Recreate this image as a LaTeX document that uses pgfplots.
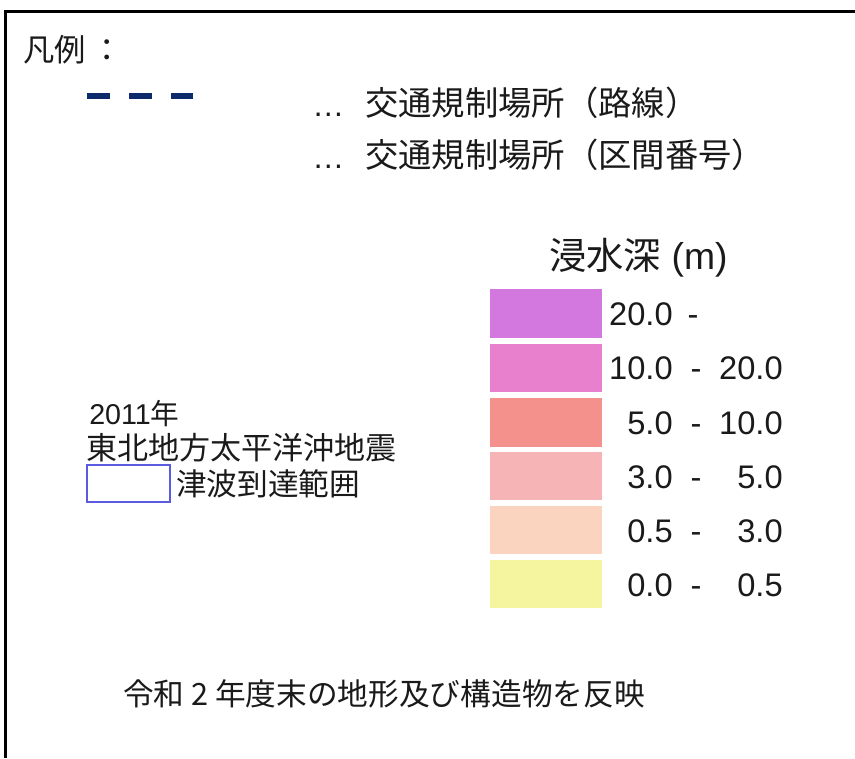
\documentclass[border=0pt]{standalone}
\usepackage{pgfplots}
\pgfplotsset{compat=1.18}
\usepackage{fontspec}
\setmainfont{Liberation Sans}
\newfontfamily\jp{Noto Sans CJK JP}
\definecolor{navy}{HTML}{0D2A6B}
\definecolor{boxblue}{HTML}{5B5BE0}
\definecolor{cA}{HTML}{D378DE}
\definecolor{cB}{HTML}{E880CD}
\definecolor{cC}{HTML}{F5918C}
\definecolor{cD}{HTML}{F7B4B6}
\definecolor{cE}{HTML}{FAD4BE}
\definecolor{cF}{HTML}{F5F5A0}
\definecolor{txt}{HTML}{1A1A1A}
\begin{document}
\begin{tikzpicture}
\begin{axis}[name=ax, scale only axis, width=641.25pt, height=568.5pt,
  xmin=0, xmax=855, ymin=0, ymax=758, y dir=reverse, hide axis, clip=false]
% frame
\addplot[black, line width=2.25pt] coordinates {(5,758) (5,11.5) (855,11.5)};
% dashed route symbol
\addplot[navy, line width=4.5pt, line cap=butt, dash pattern=on 17.25pt off 14.25pt] coordinates {(87,96) (193,96)};
% swatches
\addplot[draw=none, fill=cA] coordinates {(490,289) (602,289) (602,338) (490,338)} -- cycle;
\addplot[draw=none, fill=cB] coordinates {(490,344) (602,344) (602,392) (490,392)} -- cycle;
\addplot[draw=none, fill=cC] coordinates {(490,398) (602,398) (602,447) (490,447)} -- cycle;
\addplot[draw=none, fill=cD] coordinates {(490,452) (602,452) (602,500) (490,500)} -- cycle;
\addplot[draw=none, fill=cE] coordinates {(490,506) (602,506) (602,554) (490,554)} -- cycle;
\addplot[draw=none, fill=cF] coordinates {(490,560) (602,560) (602,608) (490,608)} -- cycle;
% tsunami box
\addplot[boxblue, line width=1.1pt] coordinates {(87,465) (170,465) (170,502) (87,502)} -- cycle;
% texts
\node[anchor=west, text=txt, font=\jp\fontsize{23.5}{27}\selectfont, inner sep=0pt] at (axis cs:23,50) {凡例\,：};
\node[anchor=base west, text=txt, font=\fontsize{24}{28}\selectfont, inner sep=0pt] at (axis cs:312,116) {…};
\node[anchor=base west, text=txt, font=\fontsize{24}{28}\selectfont, inner sep=0pt] at (axis cs:312,168) {…};
\node[anchor=west, text=txt, font=\jp\fontsize{25}{29}\selectfont, inner sep=0pt] at (axis cs:365,103) {交通規制場所（路線）};
\node[anchor=west, text=txt, font=\jp\fontsize{25}{29}\selectfont, inner sep=0pt] at (axis cs:365,155) {交通規制場所（区間番号）};
\node[anchor=west, text=txt, font=\fontsize{28}{31}\selectfont, inner sep=0pt] at (axis cs:549,258) {{\jp 浸水深} (m)};
% value labels
\node[anchor=base east, text=txt, font=\fontsize{24.5}{28}\selectfont, inner sep=0pt] at (axis cs:673,325) {20.0};
\node[anchor=base, text=txt, font=\fontsize{24.5}{28}\selectfont, inner sep=0pt] at (axis cs:693,325) {-};
\node[anchor=base east, text=txt, font=\fontsize{24.5}{28}\selectfont, inner sep=0pt] at (axis cs:673,379) {10.0};
\node[anchor=base, text=txt, font=\fontsize{24.5}{28}\selectfont, inner sep=0pt] at (axis cs:696,379) {-};
\node[anchor=base east, text=txt, font=\fontsize{24.5}{28}\selectfont, inner sep=0pt] at (axis cs:783,379) {20.0};
\node[anchor=base east, text=txt, font=\fontsize{24.5}{28}\selectfont, inner sep=0pt] at (axis cs:673,434) {5.0};
\node[anchor=base, text=txt, font=\fontsize{24.5}{28}\selectfont, inner sep=0pt] at (axis cs:696,434) {-};
\node[anchor=base east, text=txt, font=\fontsize{24.5}{28}\selectfont, inner sep=0pt] at (axis cs:783,434) {10.0};
\node[anchor=base east, text=txt, font=\fontsize{24.5}{28}\selectfont, inner sep=0pt] at (axis cs:673,488) {3.0};
\node[anchor=base, text=txt, font=\fontsize{24.5}{28}\selectfont, inner sep=0pt] at (axis cs:696,488) {-};
\node[anchor=base east, text=txt, font=\fontsize{24.5}{28}\selectfont, inner sep=0pt] at (axis cs:783,488) {5.0};
\node[anchor=base east, text=txt, font=\fontsize{24.5}{28}\selectfont, inner sep=0pt] at (axis cs:673,542) {0.5};
\node[anchor=base, text=txt, font=\fontsize{24.5}{28}\selectfont, inner sep=0pt] at (axis cs:696,542) {-};
\node[anchor=base east, text=txt, font=\fontsize{24.5}{28}\selectfont, inner sep=0pt] at (axis cs:783,542) {3.0};
\node[anchor=base east, text=txt, font=\fontsize{24.5}{28}\selectfont, inner sep=0pt] at (axis cs:673,596) {0.0};
\node[anchor=base, text=txt, font=\fontsize{24.5}{28}\selectfont, inner sep=0pt] at (axis cs:696,596) {-};
\node[anchor=base east, text=txt, font=\fontsize{24.5}{28}\selectfont, inner sep=0pt] at (axis cs:783,596) {0.5};
% tsunami legend
\node[anchor=base west, text=txt, font=\fontsize{21.5}{25}\selectfont, inner sep=0pt] at (axis cs:89,424) {2011{\jp 年}};
\node[anchor=west, text=txt, font=\jp\fontsize{23.3}{27}\selectfont, inner sep=0pt] at (axis cs:86,448) {東北地方太平洋沖地震};
\node[anchor=west, text=txt, font=\jp\fontsize{23}{27}\selectfont, inner sep=0pt] at (axis cs:176,484) {津波到達範囲};
% footer
\node[anchor=west, text=txt, font=\jp\fontsize{23}{27}\selectfont, inner sep=0pt] at (axis cs:123,694) {令和 2 年度末の地形及び構造物を反映};
\end{axis}
\pgfresetboundingbox
\path (ax.south west) rectangle (ax.north east);
\end{tikzpicture}
\end{document}
